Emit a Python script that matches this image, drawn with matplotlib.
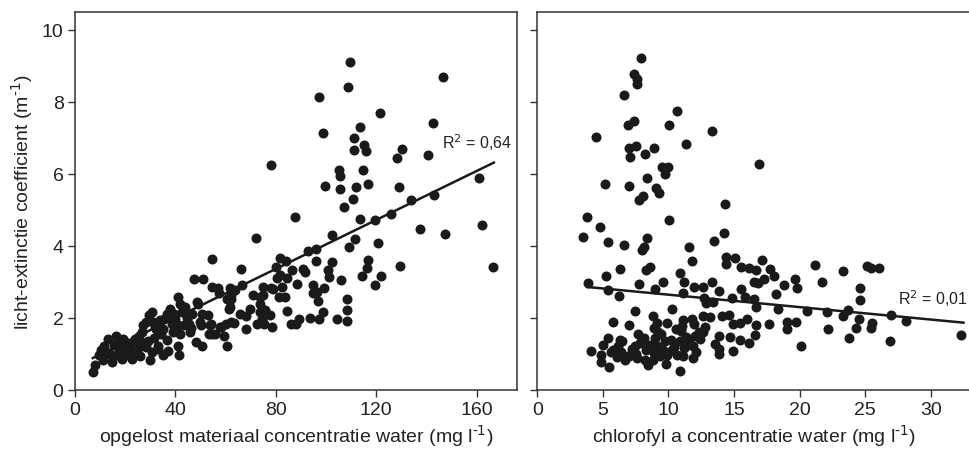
import numpy as np
import matplotlib
matplotlib.use("Agg")
import matplotlib.pyplot as plt

plt.rcParams['font.family'] = ['Liberation Sans', 'DejaVu Sans']

# opgelost materiaal (mg/l) vs licht-extinctie (1/m)
dom_x = [109.7, 146.6, 97.1, 108.6, 121.5, 142.4, 113.4, 98.9, 111.3, 115.0, 111.1, 115.9, 130.4, 128.1,
         140.6, 78.1, 105.0, 105.6, 114.9, 160.7, 99.7, 105.7, 112.1, 116.6, 128.9, 134.0, 143.0, 110.6,
         107.2, 87.6, 113.7, 119.5, 126.0,
         137.4, 147.3, 162.1, 166.5, 72.2, 111.7, 120.7, 109.0, 102.4, 92.7, 95.9, 95.9, 102.4, 116.9,
         116.2, 129.6, 114.2, 122.0, 119.4, 106.1, 100.8, 101.2, 108.4, 108.4, 108.4, 104.2, 98.9, 96.9,
         97.2, 93.7, 94.7, 96.4, 94.7, 99.3, 90.7, 91.8, 88.6, 89.4, 86.1, 88.0, 84.5, 86.5, 83.9, 81.8,
         80.2, 81.8, 84.5, 80.6, 82.5, 81.1, 83.8, 79.1, 78.1, 75.1, 73.8, 74.9, 70.9, 66.5, 66.0, 63.6,
         61.9, 62.2, 60.6, 61.6, 69.8, 73.8, 65.9, 68.0, 73.8, 75.8, 77.8, 74.5, 72.5, 75.2, 78.5, 68.1,
         62.2, 60.3, 57.9, 59.6, 60.6, 54.7, 54.6, 57.1, 57.5, 47.5, 51.0, 49.0, 53.2, 50.5, 49.8, 53.8,
         54.6, 55.9, 48.3, 50.5, 46.8,
         7.2, 8.1, 9.8, 11.4, 13.1, 11.8, 14.7, 14.1, 16.5, 16.7, 19.4, 18.7, 20.0, 22.7, 22.1, 24.0,
         24.7, 26.0, 27.3, 26.7, 29.0, 30.0, 30.6, 29.7, 30.6, 32.0, 33.3, 35.3, 37.3, 33.9, 36.6, 37.9,
         35.3, 38.6, 41.3, 42.0, 42.7, 40.0, 41.3, 42.0, 41.3, 41.7, 45.3, 46.0,
         19.7, 17.0, 21.6, 24.3, 28.2, 28.2, 32.5, 33.2, 35.6, 39.5, 43.6, 46.2, 48.8, 54.2, 50.2, 53.4,
         58.1, 62.1, 63.4, 61.5,
         12.5, 15.5, 17.8, 20.8, 23.2, 25.5, 27.8, 31.5, 34.5, 36.8, 39.0, 38.0, 31.2, 44.0, 26.0, 19.0,
         10.5, 44.5]
dom_y = [9.11, 8.69, 8.13, 8.42, 7.68, 7.41, 7.31, 7.13, 6.98, 6.80, 6.66, 6.63, 6.69, 6.44,
         6.52, 6.25, 6.10, 5.94, 6.10, 5.87, 5.65, 5.57, 5.64, 5.71, 5.64, 5.26, 5.41, 5.30,
         5.09, 4.79, 4.74, 4.72, 4.89,
         4.48, 4.32, 4.58, 3.40, 4.23, 4.19, 4.07, 3.96, 4.30, 3.85, 3.91, 3.58, 3.56, 3.60,
         3.39, 3.44, 3.15, 3.15, 2.92, 3.06, 3.32, 3.14, 2.53, 2.21, 1.91, 1.96, 2.16, 2.46,
         1.96, 2.01, 2.70, 2.72, 2.92, 2.83, 3.37, 3.28, 2.95, 1.98, 1.84, 1.84, 2.18, 3.32, 3.57, 3.65,
         3.42, 3.18, 3.10, 3.10, 2.86, 2.58, 2.58, 2.81, 2.83, 2.86, 2.58, 2.64, 2.63, 2.92, 3.37, 2.77,
         2.83, 2.64, 2.53, 2.30, 2.26, 2.39, 2.12, 2.04, 2.17, 2.21, 2.07, 1.98, 1.84, 1.84, 1.75, 1.70,
         1.88, 1.84, 1.76, 1.51, 1.23, 3.63, 2.86, 2.83, 2.68, 3.07, 3.07, 2.40, 2.07, 2.12, 1.89, 1.80,
         1.56, 1.56, 1.33, 1.23, 2.12,
         0.51, 0.68, 0.96, 0.82, 1.42, 1.23, 0.77, 1.00, 1.49, 1.23, 1.42, 1.14, 0.96, 0.86, 1.23, 1.42,
         1.09, 1.23, 1.79, 1.60, 1.37, 0.82, 1.05, 2.07, 2.16, 1.75, 1.23, 0.96, 1.09, 1.93, 2.12, 2.26,
         1.70, 1.84, 2.58, 2.40, 2.16, 1.98, 1.80, 1.56, 1.23, 0.96, 1.84, 1.60,
         1.37, 0.96, 1.14, 1.37, 1.89, 1.19, 1.70, 1.14, 1.98, 2.12, 1.80, 1.71, 2.44, 1.84, 1.80, 1.56,
         1.74, 2.53, 1.86, 2.25,
         1.05, 1.25, 1.35, 1.30, 1.05, 1.50, 1.30, 1.45, 1.55, 1.40, 1.62, 2.00, 1.90, 2.30, 0.95, 0.85,
         1.10, 2.00]

# chlorofyl a (mg/l) vs licht-extinctie (1/m)
chl_x = [7.91, 7.35, 7.60, 7.60, 6.61, 10.67, 6.89, 7.35, 10.02, 13.29, 4.44, 6.96, 7.53, 7.09, 8.24,
         8.88, 11.30, 9.52, 10.0, 9.72, 16.89, 5.16, 6.96, 8.37, 9.08, 9.29, 7.73, 8.03, 14.31, 3.80, 10.02,
         4.80, 3.47, 5.36, 6.63, 8.37, 8.11, 8.0, 13.47, 14.23, 11.55, 11.81, 14.41, 15.07, 14.41, 17.12,
         6.28, 8.32, 8.62, 5.26, 10.87, 15.51, 16.14, 16.71, 17.75, 18.06, 17.25, 16.53, 16.84, 21.17,
         23.34, 25.13, 25.45, 26.03, 3.86, 7.73, 9.00, 9.59, 11.17, 11.97, 12.61, 13.32, 13.88, 5.36, 6.20,
         11.09, 12.70, 12.83, 13.40, 14.86, 15.53, 15.84, 16.53, 16.66, 18.19, 18.83, 19.66, 19.83, 21.68,
         24.64, 24.62, 18.36, 20.56, 22.09, 23.31, 23.66, 24.5, 25.53, 26.99, 28.13, 32.29, 22.14, 23.80,
         24.32, 25.42, 26.93, 20.10, 19.05, 19.75, 19.03, 17.63, 16.65, 16.57, 16.11, 15.48, 14.71, 14.90,
         14.95, 15.46, 15.97, 14.05, 14.61, 13.87, 13.55, 13.86, 13.88, 13.2, 12.64, 12.39, 11.88, 12.0,
         11.88, 11.93, 11.8, 11.1, 10.97, 11.3, 11.21, 11.10, 10.87, 10.62, 10.28, 9.9, 10.16, 9.83, 9.9,
         9.39, 9.13, 9.0, 8.88, 8.82, 9.13, 8.82, 8.19, 8.32, 7.93, 7.42, 7.68, 7.42, 6.96, 6.42, 6.68,
         6.05, 6.17, 5.79, 5.41, 5.03, 4.85, 4.85, 5.46, 4.07, 7.5,
         6.4, 7.2, 8.6, 9.6, 10.4, 11.6, 12.3, 9.4, 10.6, 12.8, 6.9, 8.4,
         5.8, 6.3, 7.0, 7.8, 8.9, 9.7, 10.3, 11.4, 12.1, 12.6, 9.2, 10.9, 8.1, 5.6, 7.6, 11.0]
chl_y = [9.22, 8.78, 8.64, 8.48, 8.18, 7.74, 7.36, 7.46, 7.36, 7.20, 7.03, 6.71, 6.76, 6.48, 6.56,
         6.71, 6.83, 6.18, 6.18, 6.00, 6.28, 5.73, 5.67, 5.88, 5.60, 5.46, 5.27, 5.37, 5.15, 4.81, 4.72,
         4.51, 4.24, 4.11, 4.02, 4.23, 3.97, 3.88, 4.13, 4.37, 3.97, 3.59, 3.70, 3.67, 3.49, 3.62,
         3.37, 3.32, 3.41, 3.16, 3.24, 3.42, 3.39, 3.32, 3.37, 3.16, 3.09, 3.00, 2.96, 3.46,
         3.30, 3.45, 3.39, 3.39, 2.98, 2.95, 2.81, 3.00, 3.00, 2.86, 2.86, 3.00, 2.76, 2.77, 2.60,
         2.70, 2.56, 2.42, 2.44, 2.56, 2.81, 2.59, 2.53, 2.30, 2.65, 2.92, 3.09, 2.84, 3.00,
         2.83, 2.51, 2.24, 2.20, 2.16, 2.05, 2.22, 1.96, 1.87, 2.07, 1.92, 1.53, 1.70, 1.44,
         1.72, 1.72, 1.37, 1.22, 1.69, 1.88, 1.88, 1.82, 1.79, 1.53, 1.30, 1.38, 1.48, 1.08,
         1.83, 1.85, 1.98, 2.04, 2.09, 1.51, 1.28, 1.00, 1.14, 2.02, 2.06, 1.42, 1.23, 1.51,
         0.88, 1.84, 1.98, 1.93, 1.64, 1.48, 1.16, 0.93, 0.52, 0.98, 2.26, 1.86, 1.38, 0.73, 0.98,
         0.93, 1.21, 1.45, 1.73, 2.04, 1.87, 0.82, 0.82, 1.10, 1.33, 1.23, 1.56, 2.19, 1.81, 1.37, 0.82,
         0.91, 1.23, 1.90, 1.44, 1.26, 0.98, 0.79, 0.63, 1.08, 1.01,
         1.05, 1.15, 1.25, 1.10, 1.20, 1.30, 1.60, 1.55, 1.70, 1.75, 0.95, 0.70,
         1.12, 1.40, 0.95, 1.30, 1.02, 1.35, 1.12, 1.25, 1.05, 1.62, 1.62, 1.35, 1.45, 1.05, 0.90, 1.78]

# regressielijnen (intercept, helling, bereik) en R2
dom_fit = (0.64, 0.034, 7.2, 166.8)
chl_fit = (2.99, -0.0345, 3.8, 32.5)
dom_r2 = "R$^{2}$ = 0,64"
chl_r2 = "R$^{2}$ = 0,01"

ylabel = "licht-extinctie coefficient (m$^{\\text{-}1}$)"
dom_label = "opgelost materiaal concentratie water (mg l$^{\\text{-}1}$)"
chl_label = "chlorofyl a concentratie water (mg l$^{\\text{-}1}$)"

fig = plt.figure(figsize=(9.7, 4.52), dpi=100)
ax1 = fig.add_axes([0.077, 0.135, 0.456, 0.837])
ax2 = fig.add_axes([0.554, 0.135, 0.446, 0.837])

dot = '#1a1a1a'
edge = '#333333'


def style(ax, right=True):
    for side, sp in ax.spines.items():
        sp.set_color(edge)
        sp.set_linewidth(1.1)
    if not right:
        ax.spines['right'].set_visible(False)
    ax.tick_params(direction='out', length=5, width=1.0, color=edge, labelsize=14,
                   labelcolor='#222222', pad=3)
    ax.set_ylim(0, 10.5)
    ax.set_yticks([0, 2, 4, 6, 8, 10])


ax1.scatter(dom_x, dom_y, s=52, color=dot, linewidths=0, zorder=3)
xs = np.array(dom_fit[2:])
ax1.plot(xs, dom_fit[0] + dom_fit[1] * xs, color=dot, lw=1.8, zorder=4)
ax1.text(146, 6.9, dom_r2, fontsize=11.5, ha='left', va='center', color='#222222')
ax1.set_xlim(0, 176)
ax1.set_xticks([0, 40, 80, 120, 160])
style(ax1)
ax1.set_ylabel(ylabel, fontsize=14, color='#222222', labelpad=5)
ax1.set_xlabel(dom_label, fontsize=14, color='#222222', labelpad=3)

ax2.scatter(chl_x, chl_y, s=52, color=dot, linewidths=0, zorder=3)
xs = np.array(chl_fit[2:])
ax2.plot(xs, chl_fit[0] + chl_fit[1] * xs, color=dot, lw=1.8, zorder=4)
ax2.text(32.85, 2.55, chl_r2, fontsize=11.5, ha='right', va='center', color='#222222')
ax2.set_xlim(0, 33)
ax2.set_xticks([0, 5, 10, 15, 20, 25, 30])
style(ax2, right=False)
ax2.set_yticklabels([])
ax2.set_xlabel(chl_label, fontsize=14, color='#222222', labelpad=3)

fig.savefig('out.png', dpi=100)
